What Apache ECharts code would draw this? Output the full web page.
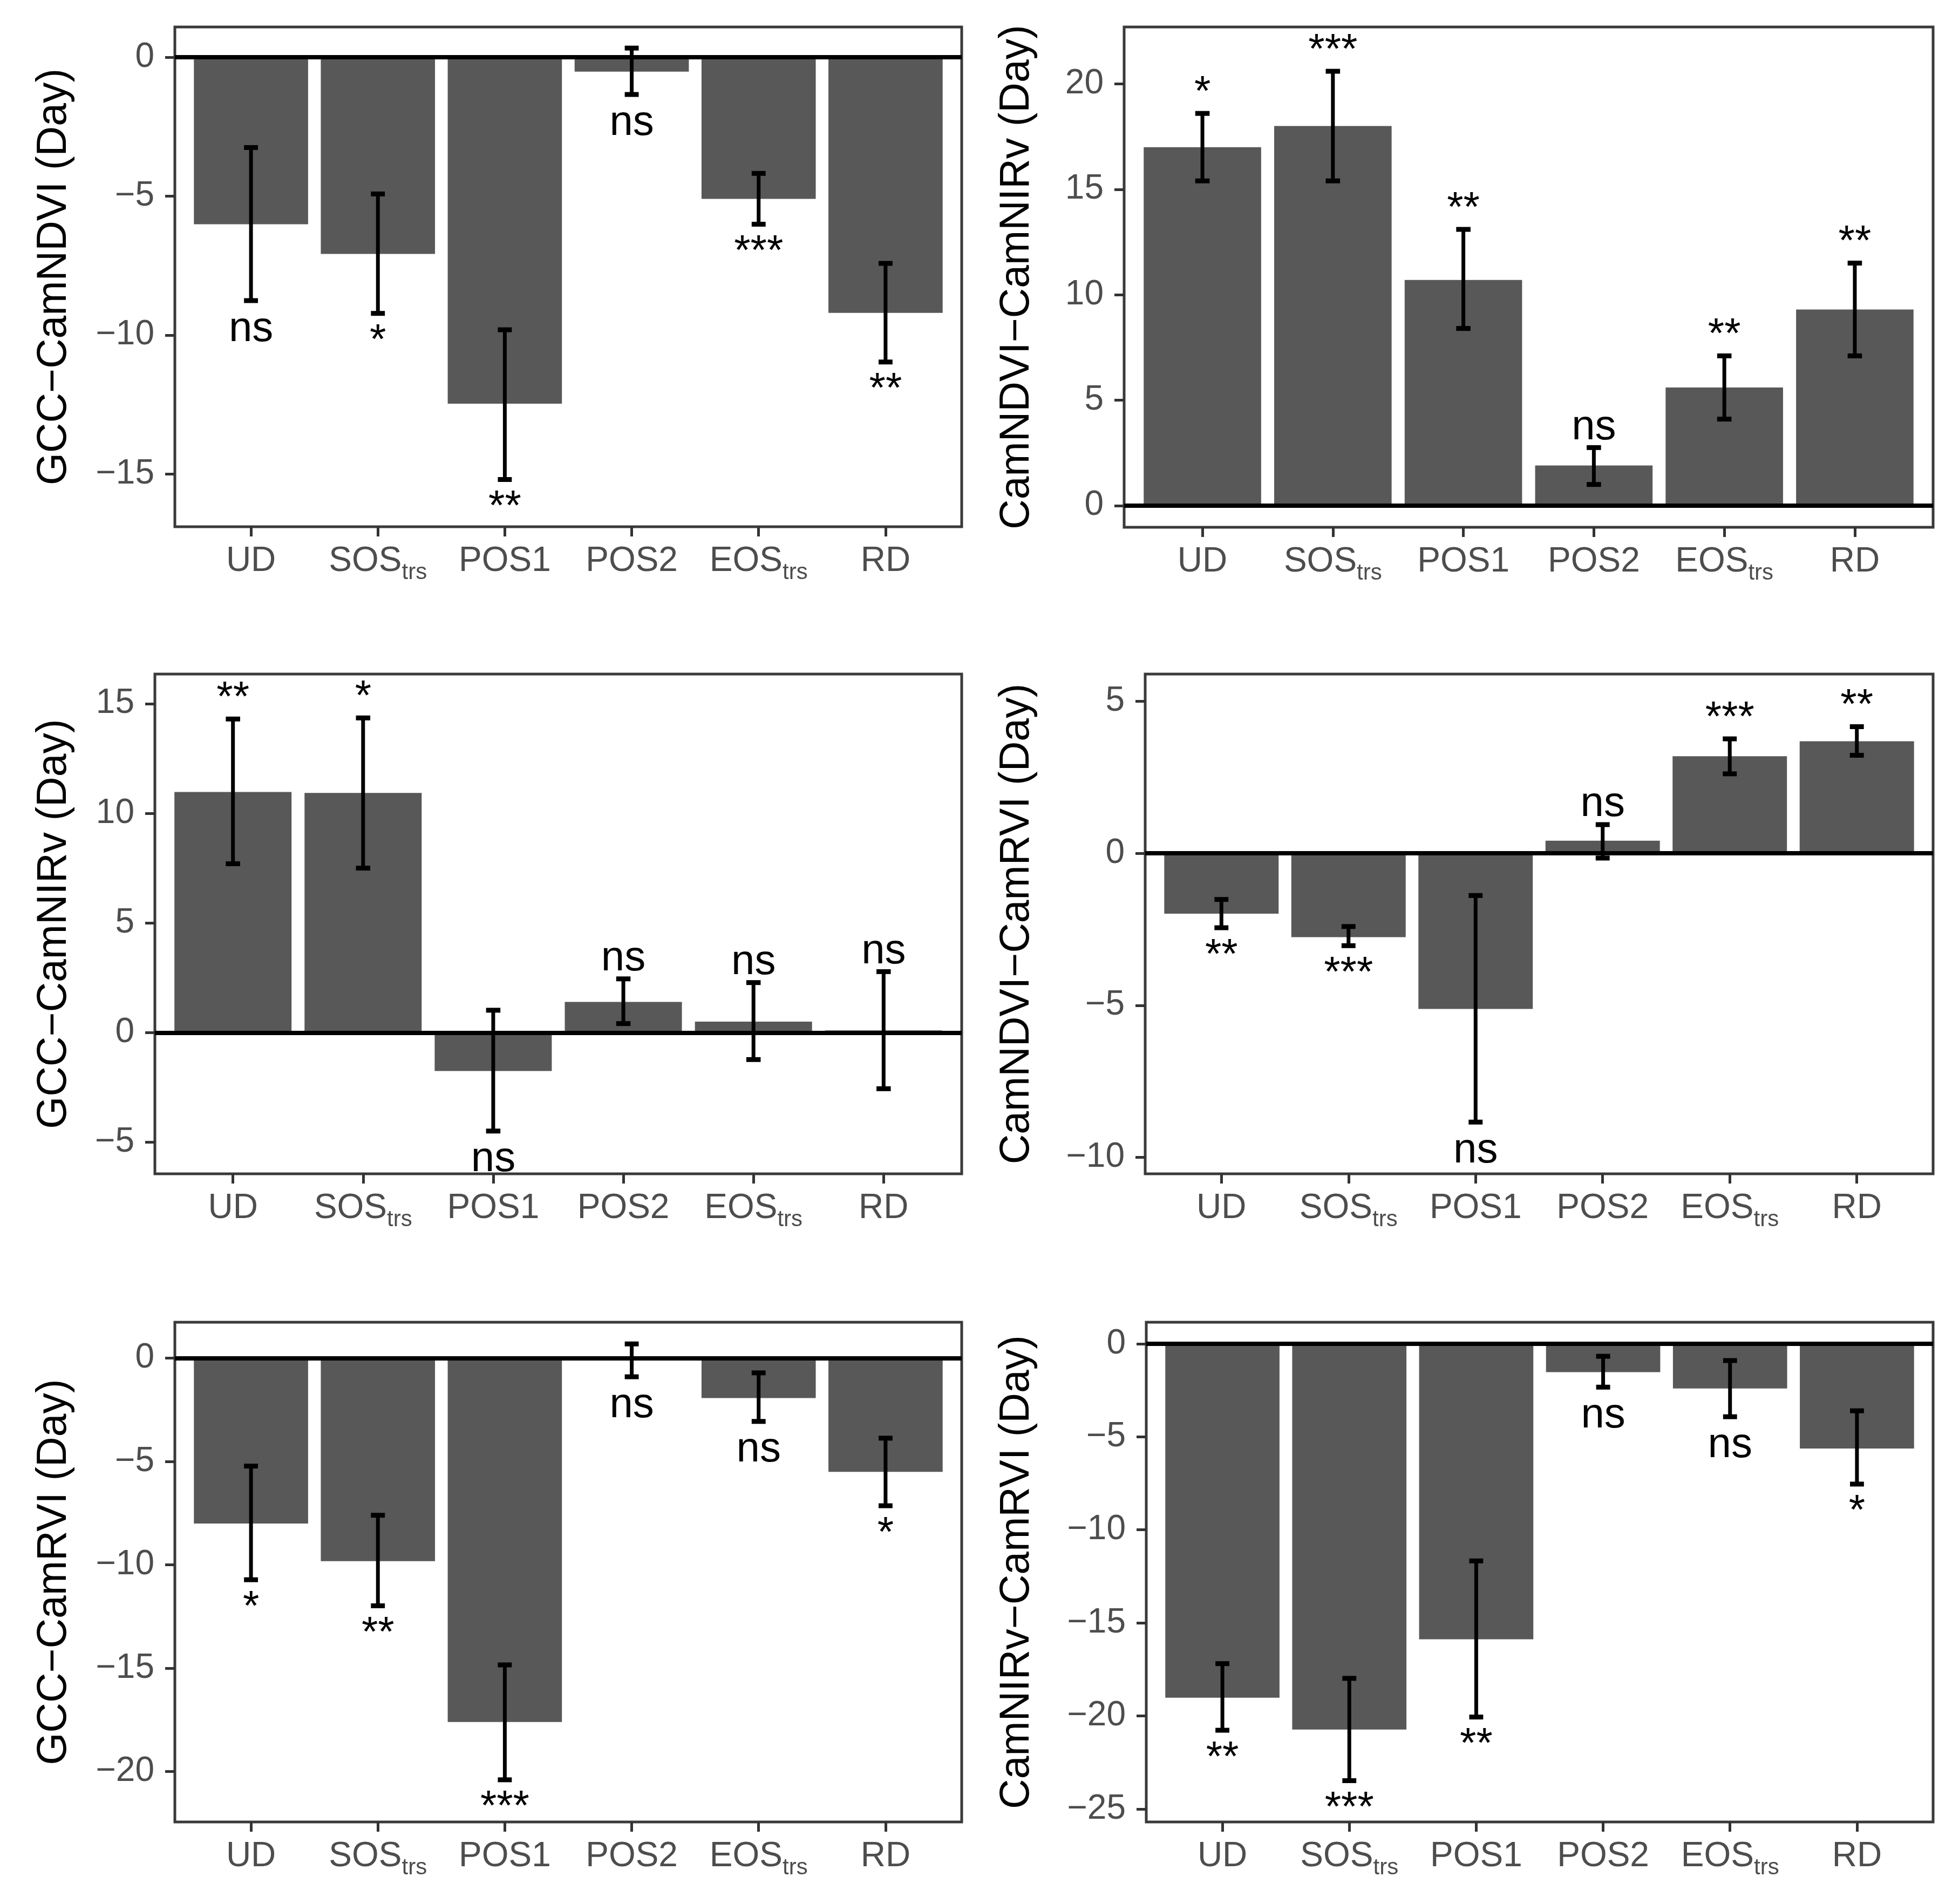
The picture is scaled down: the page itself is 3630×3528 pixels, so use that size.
<!DOCTYPE html>
<html><head><meta charset="utf-8">
<script src="https://cdn.jsdelivr.net/npm/echarts@6/dist/echarts.min.js"></script>
<style>html,body{margin:0;padding:0;background:#fff}#c{width:3630px;height:3528px}</style>
</head><body><div id="c"></div><script>
// ---- data ----
const categories = ['UD', 'SOS_trs', 'POS1', 'POS2', 'EOS_trs', 'RD'];

const title1 = 'GCC\u2212CamNDVI (Day)';
const mean1 = [-6.01, -7.08, -12.47, -0.52, -5.10, -9.20];
const low1  = [-8.76, -9.22, -15.20, -1.34, -6.01, -10.97];
const high1 = [-3.25, -4.92, -9.81, 0.33, -4.18, -7.42];
const sig1  = ['ns', '*', '**', 'ns', '***', '**'];
const ticks1 = [-15, -10, -5, 0];

const title2 = 'CamNDVI\u2212CamNIRv (Day)';
const mean2 = [17.0, 18.0, 10.7, 1.9, 5.6, 9.3];
const low2  = [15.4, 15.4, 8.4, 1.0, 4.1, 7.1];
const high2 = [18.6, 20.6, 13.1, 2.75, 7.1, 11.5];
const sig2  = ['*', '***', '**', 'ns', '**', '**'];
const ticks2 = [0, 5, 10, 15, 20];

const title3 = 'GCC\u2212CamNIRv (Day)';
const mean3 = [10.97, 10.93, -1.75, 1.40, 0.50, 0.10];
const low3  = [7.7, 7.5, -4.49, 0.41, -1.23, -2.56];
const high3 = [14.3, 14.35, 1.02, 2.45, 2.28, 2.78];
const sig3  = ['**', '*', 'ns', 'ns', 'ns', 'ns'];
const ticks3 = [-5, 0, 5, 10, 15];

const title4 = 'CamNDVI\u2212CamRVI (Day)';
const mean4 = [-1.99, -2.76, -5.12, 0.41, 3.19, 3.68];
const low4  = [-2.45, -3.04, -8.84, -0.16, 2.61, 3.22];
const high4 = [-1.52, -2.41, -1.39, 0.94, 3.76, 4.16];
const sig4  = ['**', '***', 'ns', 'ns', '***', '**'];
const ticks4 = [-10, -5, 0, 5];

const title5 = 'GCC\u2212CamRVI (Day)';
const mean5 = [-8.0, -9.82, -17.6, -0.10, -1.93, -5.5];
const low5  = [-10.72, -11.98, -20.4, -0.90, -3.06, -7.14];
const high5 = [-5.22, -7.6, -14.84, 0.69, -0.71, -3.87];
const sig5  = ['*', '**', '***', 'ns', 'ns', '*'];
const ticks5 = [-20, -15, -10, -5, 0];

const title6 = 'CamNIRv\u2212CamRVI (Day)';
const mean6 = [-19.02, -20.73, -15.88, -1.52, -2.4, -5.63];
const low6  = [-20.77, -23.48, -20.06, -2.33, -3.92, -7.54];
const high6 = [-17.19, -17.98, -11.67, -0.67, -0.9, -3.6];
const sig6  = ['**', '***', '**', 'ns', 'ns', '*'];
const ticks6 = [-25, -20, -15, -10, -5, 0];

const yRange1 = [-16.9, 1.09];
const yRange2 = [-1.03, 22.7];
const yRange3 = [-6.44, 16.35];
const yRange4 = [-10.54, 5.89];
const yRange5 = [-22.44, 1.74];
const yRange6 = [-25.7, 1.16];

// ---- layout / style ----
const FONT = 'Liberation Sans, Arial, sans-serif';
const panels = [
  {title: title1, mean: mean1, low: low1, high: high1, sig: sig1, ticks: ticks1, range: yRange1, left: 324, right: 1782, top: 50,   bottom: 976,  gap: 185},
  {title: title2, mean: mean2, low: low2, high: high2, sig: sig2, ticks: ticks2, range: yRange2, left: 2083, right: 3582, top: 50,  bottom: 977,  gap: 160},
  {title: title3, mean: mean3, low: low3, high: high3, sig: sig3, ticks: ticks3, range: yRange3, left: 287, right: 1782, top: 1249, bottom: 2175, gap: 148},
  {title: title4, mean: mean4, low: low4, high: high4, sig: sig4, ticks: ticks4, range: yRange4, left: 2122, right: 3582, top: 1249, bottom: 2175, gap: 199},
  {title: title5, mean: mean5, low: low5, high: high5, sig: sig5, ticks: ticks5, range: yRange5, left: 324, right: 1782, top: 2450, bottom: 3376, gap: 185},
  {title: title6, mean: mean6, low: low6, high: high6, sig: sig6, ticks: ticks6, range: yRange6, left: 2124, right: 3582, top: 2450, bottom: 3376, gap: 201}
];

const xPos = categories.map((c, i) => i + 1);
const fmtNum = v => v < 0 ? '\u2212' + Math.abs(v) : String(v);
const fmtCat = v => {
  const c = categories[Math.round(v) - 1] || '';
  const parts = c.split('_');
  return parts.length > 1 ? '{m|' + parts[0] + '}{s|' + parts[1] + '}' : '{m|' + c + '}';
};

const grids = [], xAxes = [], yAxes = [], series = [];
panels.forEach((p, i) => {
  grids.push({
    left: p.left, top: p.top, width: p.right - p.left, height: p.bottom - p.top,
    show: true, borderColor: '#3a3a3a', borderWidth: 5, backgroundColor: 'rgba(0,0,0,0)',
    containLabel: false, outerBoundsMode: 'none'
  });
  xAxes.push({
    type: 'value', gridIndex: i, min: 0.4, max: 6.6,
    axisLine: {show: false, onZero: false}, splitLine: {show: false},
    axisTick: {show: true, customValues: xPos, length: 18, lineStyle: {color: '#333', width: 5}},
    axisLabel: {
      customValues: xPos, formatter: fmtCat, margin: 32,
      rich: {
        m: {fontSize: 64, color: '#4d4d4d', fontFamily: FONT, verticalAlign: 'top', lineHeight: 64},
        s: {fontSize: 42, color: '#4d4d4d', fontFamily: FONT, verticalAlign: 'top', padding: [32, 0, 0, 0]}
      }
    }
  });
  yAxes.push({
    type: 'value', gridIndex: i, min: p.range[0], max: p.range[1],
    name: p.title, nameLocation: 'middle', nameRotate: 90, nameGap: p.gap,
    nameTextStyle: {fontSize: 77, color: '#000', fontFamily: FONT},
    axisLine: {show: false, onZero: false}, splitLine: {show: false},
    axisTick: {show: true, customValues: p.ticks, length: 18, lineStyle: {color: '#333', width: 5}},
    axisLabel: {customValues: p.ticks, formatter: fmtNum, margin: 38, fontSize: 64, color: '#4d4d4d', fontFamily: FONT}
  });
  series.push({
    type: 'custom', xAxisIndex: i, yAxisIndex: i, z: 2,
    data: p.mean.map((m, k) => [xPos[k], m]),
    encode: {x: 0, y: 1},
    renderItem: (params, api) => {
      const x = api.value(0), v = api.value(1);
      const a = api.coord([x - 0.45, 0]), b = api.coord([x + 0.45, v]);
      return {
        type: 'rect',
        shape: {x: a[0], y: Math.min(a[1], b[1]), width: b[0] - a[0], height: Math.abs(b[1] - a[1])},
        style: {fill: '#585858'}
      };
    },
    markLine: {
      silent: true, symbol: 'none', z: 5, animation: false,
      label: {show: false},
      lineStyle: {color: '#000', width: 8, type: 'solid'},
      data: [{yAxis: 0}]
    }
  });
  series.push({
    type: 'custom', xAxisIndex: i, yAxisIndex: i, z: 8,
    data: p.mean.map((m, k) => [xPos[k], p.low[k], p.high[k], m]),
    encode: {x: 0, y: [1, 2]},
    renderItem: (params, api) => {
      const x = api.value(0), lo = api.value(1), hi = api.value(2), m = api.value(3);
      const pl = api.coord([x, lo]), ph = api.coord([x, hi]);
      const half = api.coord([x + 0.055, 0])[0] - api.coord([x, 0])[0];
      const ls = {stroke: '#000', lineWidth: 7};
      const cs = {stroke: '#000', lineWidth: 9};
      const txt = p.sig[params.dataIndex];
      return {
        type: 'group',
        children: [
          {type: 'line', shape: {x1: pl[0], y1: pl[1], x2: ph[0], y2: ph[1]}, style: ls},
          {type: 'line', shape: {x1: pl[0] - half, y1: pl[1], x2: pl[0] + half, y2: pl[1]}, style: cs},
          {type: 'line', shape: {x1: ph[0] - half, y1: ph[1], x2: ph[0] + half, y2: ph[1]}, style: cs},
          {type: 'text', x: pl[0], y: m >= 0 ? ph[1] - 37 : pl[1] + 53,
           style: {text: txt, fill: '#000', fontSize: 78, fontFamily: FONT, align: 'center', verticalAlign: 'middle'}}
        ]
      };
    }
  });
});

const chart = echarts.init(document.getElementById('c'), null, {renderer: 'canvas'});
chart.setOption({
  backgroundColor: '#fff',
  animation: false,
  grid: grids, xAxis: xAxes, yAxis: yAxes, series: series
});
</script></body></html>
